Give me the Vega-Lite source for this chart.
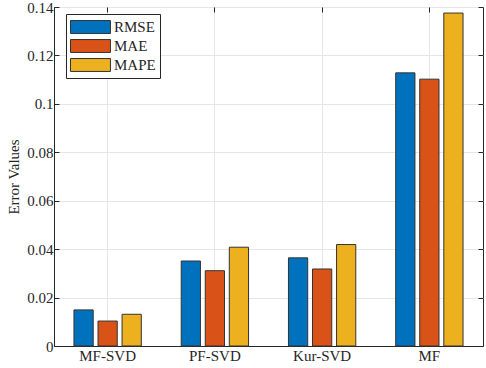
{
  "$schema": "https://vega.github.io/schema/vega-lite/v6.json",
  "width": 429,
  "height": 339,
  "autosize": {"type": "none"},
  "padding": {"left": 54, "top": 7, "right": 3, "bottom": 22},
  "background": "white",
  "config": {
    "font": "Liberation Serif",
    "view": {"stroke": "#262626", "strokeWidth": 1}
  },
  "data": {
    "values": [
      {"method": "MF-SVD", "metric": "RMSE", "value": 0.0149},
      {"method": "MF-SVD", "metric": "MAE", "value": 0.0103},
      {"method": "MF-SVD", "metric": "MAPE", "value": 0.0131},
      {"method": "PF-SVD", "metric": "RMSE", "value": 0.0351},
      {"method": "PF-SVD", "metric": "MAE", "value": 0.0311},
      {"method": "PF-SVD", "metric": "MAPE", "value": 0.0408},
      {"method": "Kur-SVD", "metric": "RMSE", "value": 0.0364},
      {"method": "Kur-SVD", "metric": "MAE", "value": 0.0318},
      {"method": "Kur-SVD", "metric": "MAPE", "value": 0.0419},
      {"method": "MF", "metric": "RMSE", "value": 0.1128},
      {"method": "MF", "metric": "MAE", "value": 0.1102},
      {"method": "MF", "metric": "MAPE", "value": 0.1375}
    ]
  },
  "layer": [
    {
      "mark": {"type": "bar", "stroke": "#333333", "strokeWidth": 1},
      "encoding": {
        "x": {
          "field": "method",
          "type": "nominal",
          "sort": ["MF-SVD", "PF-SVD", "Kur-SVD", "MF"],
          "scale": {"paddingInner": 0, "paddingOuter": 0},
          "axis": {
            "title": null,
            "labelAngle": 0,
            "labelFontSize": 15,
            "labelColor": "#262626",
            "labelPadding": 7,
            "domainColor": "#262626",
            "tickColor": "#262626",
            "tickSize": -5,
            "tickBand": "center",
            "bandPosition": 0.5,
            "grid": true,
            "gridColor": "#e6e6e6",
            "gridWidth": 1
          }
        },
        "xOffset": {
          "field": "metric",
          "type": "nominal",
          "sort": ["RMSE", "MAE", "MAPE"],
          "scale": {"paddingInner": 0.2, "paddingOuter": 0.83}
        },
        "y": {
          "field": "value",
          "type": "quantitative",
          "scale": {"domain": [0, 0.14], "nice": false},
          "axis": {
            "title": "Error Values",
            "titleFontSize": 15,
            "titleFontWeight": "normal",
            "titleColor": "#262626",
            "titlePadding": 5,
            "values": [0, 0.02, 0.04, 0.06, 0.08, 0.1, 0.12, 0.14],
            "format": "~g",
            "labelFontSize": 15,
            "labelColor": "#262626",
            "labelPadding": 6,
            "domainColor": "#262626",
            "tickColor": "#262626",
            "tickSize": -5,
            "grid": true,
            "gridColor": "#e6e6e6",
            "gridWidth": 1
          }
        },
        "color": {
          "field": "metric",
          "type": "nominal",
          "sort": ["RMSE", "MAE", "MAPE"],
          "scale": {"domain": ["RMSE", "MAE", "MAPE"], "range": ["#0072BD", "#D95319", "#EDB120"]},
          "legend": {
            "title": null,
            "orient": "none",
            "legendX": 12,
            "legendY": 7,
            "direction": "vertical",
            "symbolType": "M-1,-0.76H3.7V0.76H-1Z",
            "symbolSize": 289,
            "symbolStrokeColor": "#333333",
            "symbolStrokeWidth": 1,
            "labelFontSize": 15,
            "labelColor": "#262626",
            "rowPadding": 1,
            "labelOffset": 26,
            "padding": 4,
            "strokeColor": "#262626",
            "fillColor": "white"
          }
        }
      }
    },
    {
      "mark": {"type": "tick", "opacity": 0},
      "encoding": {
        "x": {
          "field": "method",
          "type": "nominal",
          "sort": ["MF-SVD", "PF-SVD", "Kur-SVD", "MF"],
          "scale": {"paddingInner": 0, "paddingOuter": 0},
          "axis": {
            "orient": "top",
            "title": null,
            "labels": false,
            "domain": false,
            "tickColor": "#262626",
            "tickSize": -5,
            "tickBand": "center",
            "bandPosition": 0.5,
            "grid": false
          }
        },
        "y": {
          "field": "value",
          "type": "quantitative",
          "scale": {"domain": [0, 0.14], "nice": false},
          "axis": {
            "orient": "right",
            "title": null,
            "labels": false,
            "domain": false,
            "values": [0, 0.02, 0.04, 0.06, 0.08, 0.1, 0.12, 0.14],
            "tickColor": "#262626",
            "tickSize": -5,
            "grid": false
          }
        }
      }
    }
  ],
  "resolve": {"axis": {"x": "independent", "y": "independent"}}
}
